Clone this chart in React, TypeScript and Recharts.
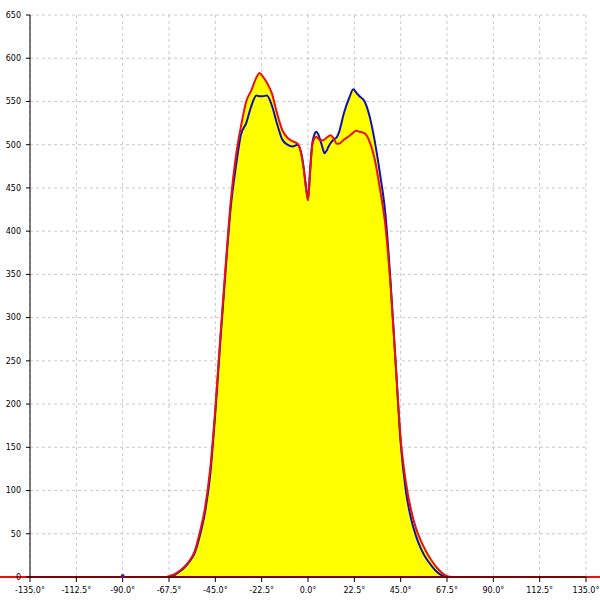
import React from 'react'
import {
  ComposedChart,
  Area,
  Line,
  XAxis,
  YAxis,
  CartesianGrid,
  ReferenceLine,
} from 'recharts'

// angle in degrees
const angles = [
  -135, -90, -80, -70, -67.5,
  -65, -62.5, -60, -57.5, -55, -52.5, -50, -47.5, -45, -42.5, -40, -37.5,
  -35, -32.5, -30, -27.5, -25, -23.5, -22, -20, -17.5, -15, -12.5, -10, -7.5, -5, -3.5, -2, -1,
  0, 1, 2, 3, 4, 5, 6, 7, 8, 9, 10, 11,
  12.5, 14, 15, 17.5, 20, 22, 23.5, 25, 27.5, 30, 32.5, 35, 37.5,
  40, 42.5, 45, 47.5, 50, 52.5, 55, 57.5, 60, 62.5, 65, 67.5, 70, 80, 90,
  135,
]

const blue = [
  null, 0, 0, 0, 0,
  2, 6, 11, 18, 28, 48, 75, 118, 190, 275, 355, 428,
  475, 512, 525, 545, 557, 556, 556, 557, 545, 524, 506, 500, 498, 500, 492, 472, 452,
  436, 470, 500, 511, 515, 512, 505, 497, 490, 493, 498, 502,
  506, 509, 514, 537, 554, 564, 560, 556, 550, 532, 503, 466, 422,
  345, 250, 155, 100, 68, 47, 32, 21, 13, 6, 2, 0, 0, 0, 0,
  null,
]

const red = [
  0, 0, 0, 0, 1,
  3, 7, 12, 19, 30, 52, 80, 125, 195, 280, 360, 435,
  487, 522, 550, 563, 578, 583, 579, 572, 559, 536, 517, 508, 504, 501, 492, 470, 450,
  436, 467, 498, 507, 509, 507, 505, 505, 506, 508, 510, 511,
  507, 501, 501, 506, 510, 514, 516, 515, 513, 503, 482, 448, 408,
  340, 250, 160, 110, 78, 56, 41, 29, 19, 11, 5, 1, 0, 0, 0,
  0,
]

const xTicks = [-135, -112.5, -90, -67.5, -45, -22.5, 0, 22.5, 45, 67.5, 90, 112.5, 135]
const yTicks = [0, 50, 100, 150, 200, 250, 300, 350, 400, 450, 500, 550, 600, 650]
// red baseline runs past both plot edges
const baselineSpan = [-150, 150]

const data = angles.map((a, i) => ({ a, blue: blue[i], red: red[i] }))

const font = { fontFamily: 'DejaVu Sans', fontSize: 8, fill: '#000' }

export default function App() {
  return (
    <div style={{ position: 'absolute', left: 0, top: 0, width: 600, height: 600, background: '#fff' }}>
      <ComposedChart width={600} height={600} data={data} margin={{ top: 15, right: 14, bottom: 0, left: 0 }}>
        <CartesianGrid stroke="#c8c8c8" strokeDasharray="3 3" />
        <XAxis
          dataKey="a"
          type="number"
          domain={[-135, 135]}
          ticks={xTicks}
          tickFormatter={(v: number) => `${v.toFixed(1)}°`}
          tick={font}
          tickSize={5}
          tickMargin={5}
          height={23}
          stroke="#000"
          interval={0}
        />
        <YAxis
          domain={[0, 650]}
          ticks={yTicks}
          tick={font}
          tickSize={4}
          tickMargin={5}
          width={30}
          stroke="#000"
          interval={0}
        />
        <YAxis yAxisId="r" orientation="right" width={0} tick={false} tickLine={false} stroke="#000" domain={[0, 650]} />
        <Area dataKey="red" type="monotone" stroke="none" fill="#ffff00" fillOpacity={1} isAnimationActive={false} />
        <Area dataKey="blue" type="monotone" stroke="none" fill="#ffff00" fillOpacity={1} isAnimationActive={false} />
        <Line
          dataKey="blue"
          type="monotone"
          stroke="#1010b8"
          strokeWidth={2}
          isAnimationActive={false}
          dot={(p: any) =>
            p.index === 1 ? (
              <circle key="d0" cx={p.cx} cy={p.cy - 1} r={2} fill="#502090" />
            ) : (
              <g key={`d${p.index}`} />
            )
          }
        />
        <ReferenceLine
          segment={[{ x: baselineSpan[0], y: 0 }, { x: baselineSpan[1], y: 0 }]}
          stroke="#e81010"
          strokeWidth={2}
          ifOverflow="visible"
        />
        <Line dataKey="red" type="monotone" stroke="#e81010" strokeWidth={2} dot={false} isAnimationActive={false} />
      </ComposedChart>
    </div>
  )
}
